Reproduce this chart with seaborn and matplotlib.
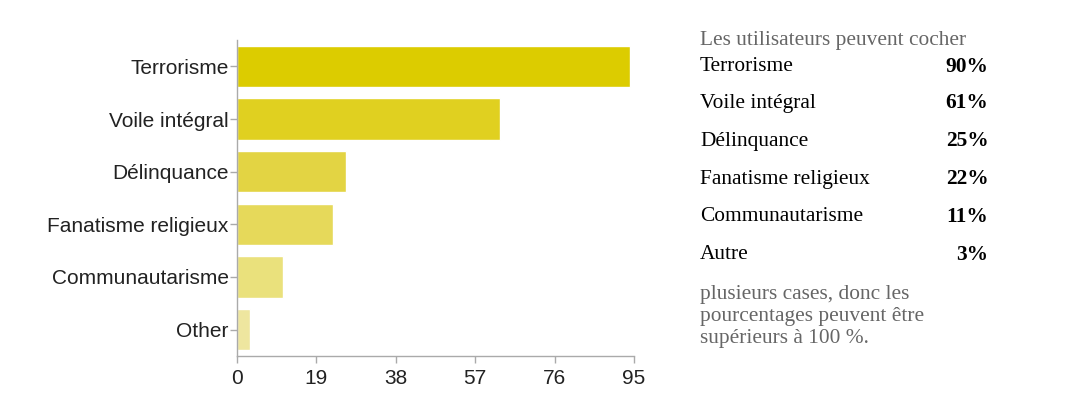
import matplotlib
matplotlib.use("Agg")
import matplotlib.pyplot as plt
import seaborn as sns
import pandas as pd

categories = ["Terrorisme", "Voile intégral", "Délinquance", "Fanatisme religieux", "Communautarisme", "Other"]
counts = [94, 63, 26, 23, 11, 3]
bar_colors = ["#DCCC00", "#E0D020", "#E3D443", "#E6D95A", "#EAE17C", "#EEE69F"]
xticks = [0, 19, 38, 57, 76, 95]

legend_labels = ["Terrorisme", "Voile intégral", "Délinquance", "Fanatisme religieux", "Communautarisme", "Autre"]
legend_pcts = ["90%", "61%", "25%", "22%", "11%", "3%"]
note_top = "Les utilisateurs peuvent cocher"
note_bottom = ["plusieurs cases, donc les", "pourcentages peuvent être", "supérieurs à 100 %."]

sns.set_theme(style="white")
plt.rcParams["font.family"] = ["Liberation Sans", "DejaVu Sans"]

W, H = 1067, 398
fig = plt.figure(figsize=(W / 100, H / 100), dpi=100)
ax = fig.add_axes([237 / W, 1 - 356 / H, (634 - 237) / W, (356 - 40) / H])

df = pd.DataFrame({"cat": categories, "val": counts})
sns.barplot(data=df, y="cat", x="val", hue="cat", palette=bar_colors, order=categories,
            hue_order=categories, orient="h", width=0.79, legend=False, ax=ax, saturation=1)

ax.set_xlim(0, 95)
ax.set_ylim(len(categories) - 0.5, -0.5)
ax.set_xticks(xticks)
ax.set_xlabel("")
ax.set_ylabel("")
for s in ["top", "right"]:
    ax.spines[s].set_visible(False)
for s in ["left", "bottom"]:
    ax.spines[s].set_color("#aaaaaa")
    ax.spines[s].set_linewidth(1.0)
ax.tick_params(axis="both", which="both", length=5, width=1, color="#aaaaaa",
               labelsize=15, labelcolor="#222222", pad=1, direction="out")
ax.tick_params(axis="x", pad=4)
ax.xaxis.set_ticks_position("bottom")
ax.yaxis.set_ticks_position("left")

serif = ["Liberation Serif", "DejaVu Serif"]
fs = 15.4
fig.text(700 / W, 1 - 40 / H, note_top, family=serif, fontsize=fs, color="#666666", va="center", ha="left")
ys = [66.5, 103.5, 141.5, 179.5, 216.5, 254.5]
for lab, pct, y in zip(legend_labels, legend_pcts, ys):
    fig.text(700 / W, 1 - y / H, lab, family=serif, fontsize=fs, color="black", va="center", ha="left")
    fig.text(988.5 / W, 1 - y / H, pct, family=serif, fontsize=fs, color="black", va="center", ha="right",
             fontweight="bold")
for line, y in zip(note_bottom, [294.5, 316.5, 339]):
    fig.text(700 / W, 1 - y / H, line, family=serif, fontsize=fs, color="#666666", va="center", ha="left")

fig.savefig("out.png", dpi=100, facecolor="white")
